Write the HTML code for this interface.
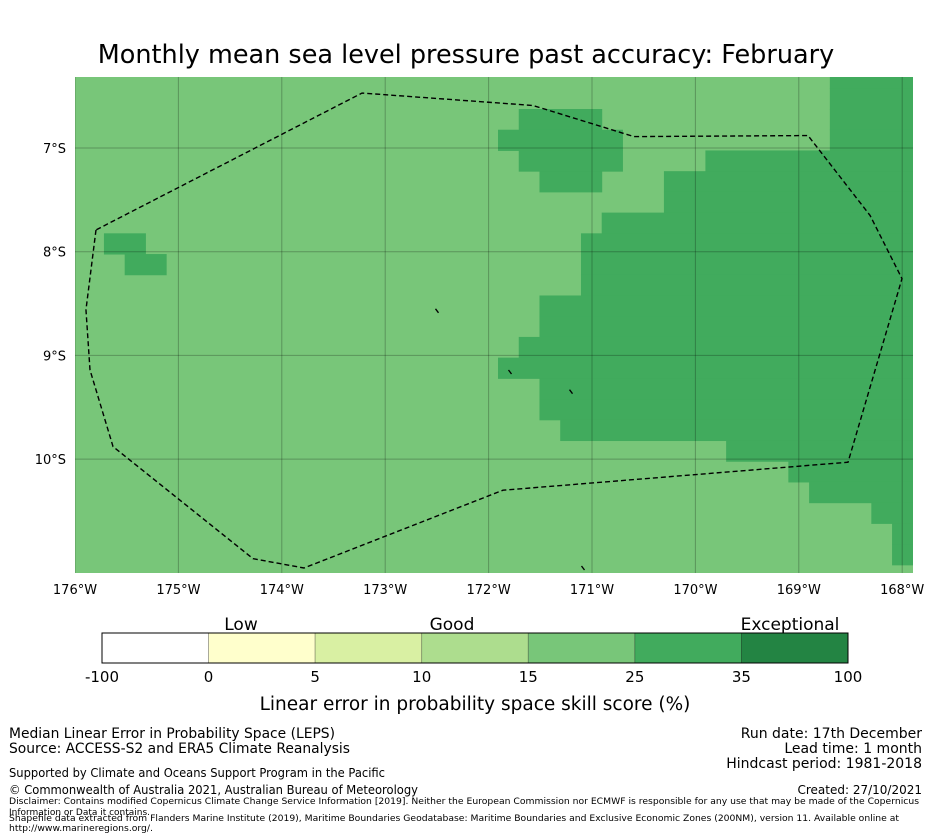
<!DOCTYPE html>
<html><head><meta charset="utf-8"><style>
html,body{margin:0;padding:0;background:#fff;}
svg{display:block;font-family:"DejaVu Sans","Liberation Sans",sans-serif;}
</style></head><body>
<svg id="chart" width="931" height="839" viewBox="0 0 931 839">
<text x="466" y="63" font-size="25.5" text-anchor="middle">Monthly mean sea level pressure past accuracy: February</text>
<defs><clipPath id="mapclip"><rect x="75" y="77" width="838" height="496"/></clipPath></defs>
<g id="map" clip-path="url(#mapclip)">
<rect x="75" y="77" width="838" height="496" fill="#78c679"/>
<g id="cells"></g><g id="grid"></g>
<polyline id="eez" fill="none" stroke="#000" stroke-width="1.4" stroke-dasharray="5,3"/>
<g id="islands" stroke="#000" stroke-width="1.3"></g>
</g>
<g id="ticks" font-size="13"></g>
<text x="241" y="630" font-size="17" text-anchor="middle">Low</text>
<text x="452" y="630" font-size="17" text-anchor="middle">Good</text>
<text x="790" y="630" font-size="17" text-anchor="middle">Exceptional</text>
<g id="cbar"></g>
<text x="475" y="710" font-size="18.5" text-anchor="middle">Linear error in probability space skill score (%)</text>
<g font-size="14">
<text x="9" y="738" textLength="326" lengthAdjust="spacingAndGlyphs">Median Linear Error in Probability Space (LEPS)</text>
<text x="9" y="753" textLength="341" lengthAdjust="spacingAndGlyphs">Source: ACCESS-S2 and ERA5 Climate Reanalysis</text>
<text x="922" y="738" text-anchor="end">Run date: 17th December</text>
<text x="922" y="753" text-anchor="end">Lead time: 1 month</text>
<text x="922" y="768" text-anchor="end">Hindcast period: 1981-2018</text>
<text x="9" y="777" font-size="12" textLength="376" lengthAdjust="spacingAndGlyphs">Supported by Climate and Oceans Support Program in the Pacific</text>
<text x="9" y="794" font-size="12" textLength="409" lengthAdjust="spacingAndGlyphs">© Commonwealth of Australia 2021, Australian Bureau of Meteorology</text>
<text x="922" y="794" font-size="12" text-anchor="end">Created: 27/10/2021</text>
<text x="9" y="804" font-size="9" textLength="910" lengthAdjust="spacingAndGlyphs">Disclaimer: Contains modified Copernicus Climate Change Service Information [2019]. Neither the European Commission nor ECMWF is responsible for any use that may be made of the Copernicus</text>
<text x="9" y="815" font-size="9" textLength="141" lengthAdjust="spacingAndGlyphs">Information or Data it contains.</text>
<text x="9" y="821" font-size="9" textLength="890" lengthAdjust="spacingAndGlyphs">Shapefile data extracted from Flanders Marine Institute (2019), Maritime Boundaries Geodatabase: Maritime Boundaries and Exclusive Economic Zones (200NM), version 11. Available online at</text>
<text x="9" y="831" font-size="9" textLength="144" lengthAdjust="spacingAndGlyphs">http://www.marineregions.org/.</text>
</g>
</svg>
<script>
// data
const lonTicks=[-176,-175,-174,-173,-172,-171,-170,-169,-168];
const latTicks=[-7,-8,-9,-10];
const cbarBounds=["-100","0","5","10","15","25","35","100"];
const cbarColors=["#ffffff","#ffffcc","#d9f0a3","#addd8e","#78c679","#41ab5d","#238443"];
// dark (25-35) cell runs per grid row: [row, colStart, colEnd) on 0.2° grid
const darkRuns=[[-2,16,21],[-1,16,21],[0,1,5],[0,16,21],[1,0,6],[1,16,21],[2,1,6],[2,10,21],[3,2,5],[3,8,21],[4,8,21],[5,5,21],[6,4,21],[6,-19,-17],[7,4,21],[7,-18,-16],[8,4,21],[9,2,21],[10,2,21],[11,1,21],[12,0,21],[13,2,21],[14,2,21],[15,3,21],[16,11,21],[17,14,21],[18,15,21],[19,18,21],[20,19,21],[21,19,21]];
const eezLon=[-175.797,-175.894,-175.855,-175.632,-174.279,-173.785,-171.861,-168.524,-168.002,-168.311,-168.911,-170.594,-171.571,-173.224,-175.797];
const eezLat=[-7.79,-8.56,-9.14,-9.88,-10.96,-11.05,-10.3,-10.03,-8.26,-7.65,-6.88,-6.89,-6.59,-6.47,-7.79];
const islands=[[-172.499,-8.57],[-171.793,-9.16],[-171.203,-9.35],[-171.087,-11.05]];
// axes
const x=lon=>75+(lon+176)*103.4;
const y=lat=>148+(-7-lat)*103.7;
const cx=c=>498+c*20.74, ry=r=>109+r*20.72;
const NS="http://www.w3.org/2000/svg";
function mk(t,a,p){const e=document.createElementNS(NS,t);for(const k in a)e.setAttribute(k,a[k]);p.appendChild(e);return e;}
const cells=document.getElementById('cells');
darkRuns.forEach(d=>{const e=mk('rect',{x:cx(d[1]),y:ry(d[0]),width:cx(d[2])-cx(d[1])+0.5,height:20.72+0.5,fill:'#41ab5d'},cells);

});
const grid=document.getElementById('grid'),ticks=document.getElementById('ticks');
lonTicks.forEach(l=>{const g=mk('line',{x1:x(l),x2:x(l),y1:77,y2:573,stroke:'rgba(0,0,0,0.25)','stroke-width':1},grid);


const t=mk('text',{x:x(l),y:594,'text-anchor':'middle'},ticks);t.textContent=Math.abs(l)+'°W';

});
latTicks.forEach(l=>{const g=mk('line',{x1:75,x2:913,y1:y(l),y2:y(l),stroke:'rgba(0,0,0,0.25)','stroke-width':1},grid);


const t=mk('text',{x:66,y:y(l)+5,'text-anchor':'end'},ticks);t.textContent=Math.abs(l)+'°S';

});
document.getElementById('eez').setAttribute('points',eezLon.map((l,i)=>x(l)+','+y(eezLat[i])).join(' '));
const isl=document.getElementById('islands');
islands.forEach(p=>{const e=mk('line',{x1:x(p[0])-1.5,y1:y(p[1])-2,x2:x(p[0])+1.5,y2:y(p[1])+2},isl);

});
const cb=document.getElementById('cbar');const w=(848-102)/cbarColors.length;
cbarColors.forEach((c,i)=>{const r=mk('rect',{x:102+i*w,y:633,width:w,height:30,fill:c,stroke:'rgba(0,0,0,0.3)','stroke-width':0.8},cb);

});
mk('rect',{x:102,y:633,width:746,height:30,fill:'none',stroke:'#000','stroke-width':1},cb);
cbarBounds.forEach((b,i)=>{const t=mk('text',{x:102+i*w,y:682,'font-size':15,'text-anchor':'middle'},cb);t.textContent=b;

});
</script>
</body></html>
